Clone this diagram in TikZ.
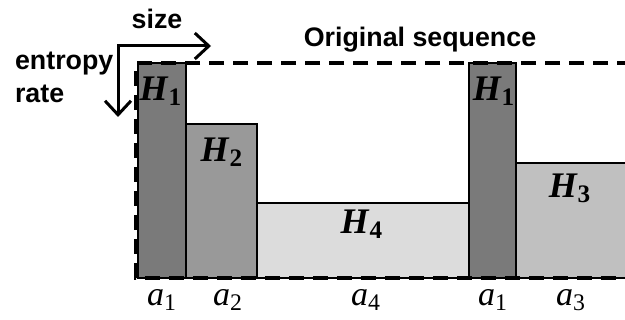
\documentclass[tikz,border=0pt]{standalone}
\usepackage{fontspec}
\setmainfont{Liberation Serif}
\setsansfont{Liberation Sans}
\usepackage{tikz}
\usetikzlibrary{arrows.meta, positioning}
\definecolor{bardark}{HTML}{7A7A7A}
\definecolor{barmid}{HTML}{999999}
\definecolor{barlight}{HTML}{C0C0C0}
\definecolor{barpale}{HTML}{DCDCDC}
\newcommand{\hlab}[1]{\textbf{\textit{H}\textsubscript{#1}}}
\newcommand{\alab}[1]{\textit{a}\textsubscript{#1}}

\begin{document}
\begin{tikzpicture}[
  x=0.5pt, y=-0.5pt,
  bar/.style={draw=black, line width=1pt},
  hname/.style={font=\fontsize{18}{20}\selectfont},
  aname/.style={font=\fontsize{17}{19}\selectfont},
  axis/.style={font=\fontsize{13.4}{16.5}\selectfont\sffamily\bfseries},
]
  \useasboundingbox (0,0) rectangle (625,320);

  % Bars
  \filldraw[bar, fill=bardark] (138,63) rectangle (186,278);
  \filldraw[bar, fill=barmid] (186,124) rectangle (257,278);
  \filldraw[bar, fill=barpale] (257,203) rectangle (469,278);
  \filldraw[bar, fill=bardark] (469,63) rectangle (516,278);
  \filldraw[bar, fill=barlight] (516,163) rectangle (632,278);

  % Bar labels
  \node[hname] (h1a) at (161,91) {\hlab{1}};
  \node[hname] (h2) at (222,152) {\hlab{2}};
  \node[hname] (h4) at (362,224) {\hlab{4}};
  \node[hname] (h1b) at (494,91) {\hlab{1}};
  \node[hname] (h3) at (570,188) {\hlab{3}};

  % Original sequence
  \draw[line width=1.6pt, dash pattern=on 7.5pt off 4.5pt]
    (632,63) -- (136,63) -- (136,278) -- (632,278);
  \node[axis] (orig) at (420,40) {Original sequence};

  % Segment names
  \node[aname] (a1a) at (162,300) {\alab{1}};
  \node[aname] (a2) at (228,300) {\alab{2}};
  \node[aname] (a4) at (366,300) {\alab{4}};
  \node[aname] (a1b) at (493,300) {\alab{1}};
  \node[aname] (a3) at (571,300) {\alab{3}};

  % Axes
  \coordinate (rateend) at (118,117);
  \coordinate (sizeend) at (211,46);
  \draw[line width=1.5pt, {Straight Barb[length=7pt,width=13pt]}-{Straight Barb[length=7pt,width=13pt]}]
    (rateend) |- (sizeend);
  \node[axis] (size) at (157,19) {size};
  \node[axis, align=left, anchor=west] (rate) at (8,77) {entropy\\rate};

\end{tikzpicture}
\end{document}
